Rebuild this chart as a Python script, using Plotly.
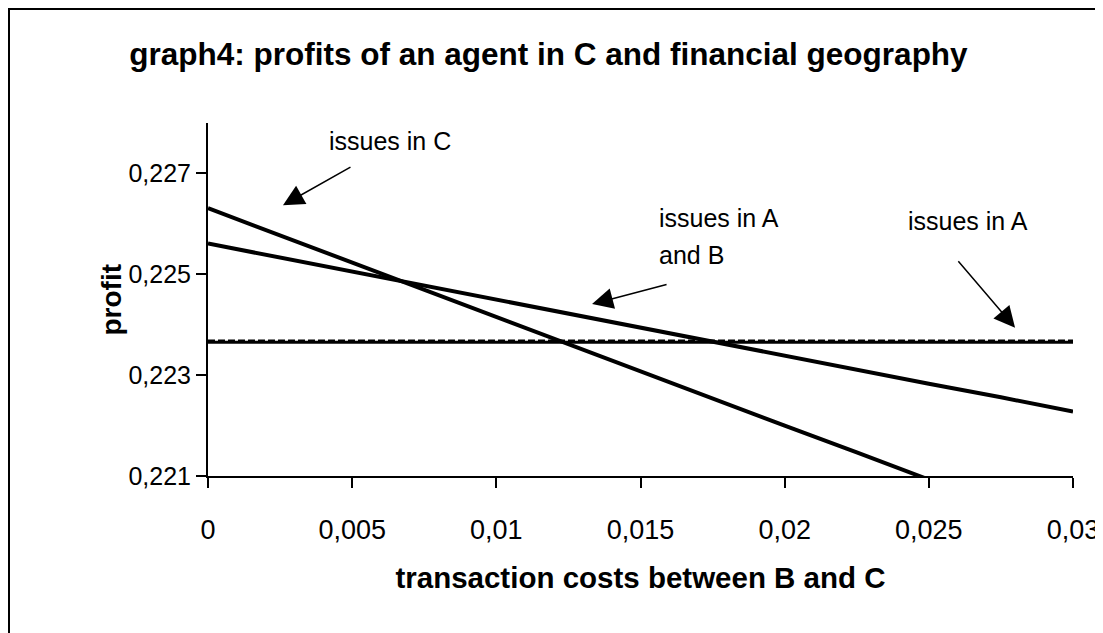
import plotly.graph_objects as go

# ---- data ----
x_c = [0, 0.0025, 0.005, 0.0075, 0.01, 0.0125, 0.015, 0.0175, 0.02, 0.0225, 0.025, 0.0255]
profit_issues_c = [0.22631, 0.22577, 0.22524, 0.22470, 0.22416, 0.22362, 0.22308, 0.22254,
                   0.22200, 0.22147, 0.22093, 0.22082]

x_ab = [0, 0.0025, 0.005, 0.0075, 0.01, 0.0125, 0.015, 0.0175, 0.02, 0.0225, 0.025, 0.0275, 0.03]
profit_issues_ab = [0.22561, 0.22533, 0.22506, 0.22478, 0.22450, 0.22422, 0.22395, 0.22367,
                    0.22339, 0.22311, 0.22283, 0.22256, 0.22228]

x_a = [0, 0.03]
profit_issues_a = [0.22365, 0.22365]
profit_issues_a_dashed = [0.22368, 0.22368]

x_tickvals = [0, 0.005, 0.01, 0.015, 0.02, 0.025, 0.03]
x_ticktext = ["0", "0,005", "0,01", "0,015", "0,02", "0,025", "0,03"]
y_tickvals = [0.221, 0.223, 0.225, 0.227]
y_ticktext = ["0,221", "0,223", "0,225", "0,227"]

title_text = "graph4: profits of an agent in C and financial geography"
x_title = "transaction costs between B and C"
y_title = "profit"

FONT = "Liberation Sans, Arial, sans-serif"

fig = go.Figure()
fig.add_trace(go.Scatter(x=x_a, y=profit_issues_a, mode="lines", name="issues in A",
                         line=dict(color="black", width=3)))
fig.add_trace(go.Scatter(x=x_a, y=profit_issues_a_dashed, mode="lines", name="issues in A (2)",
                         line=dict(color="black", width=2.5, dash="7px,3px")))
fig.add_trace(go.Scatter(x=x_ab, y=profit_issues_ab, mode="lines", name="issues in A and B",
                         line=dict(color="black", width=4)))
fig.add_trace(go.Scatter(x=x_c, y=profit_issues_c, mode="lines", name="issues in C",
                         line=dict(color="black", width=4)))

axis_common = dict(showline=True, linecolor="black", linewidth=2, ticks="outside",
                   ticklen=10, tickwidth=2, tickcolor="black", showgrid=False,
                   zeroline=False, mirror=False, automargin=False)

fig.update_xaxes(range=[0, 0.03], tickvals=x_tickvals, ticktext=x_ticktext,
                 ticklabelstandoff=19,
                 tickfont=dict(family=FONT, size=27, color="black"),
                 title=dict(text=x_title, font=dict(family=FONT, size=29.5, color="black",
                                                   weight="bold"), standoff=23),
                 **axis_common)
fig.update_yaxes(range=[0.221, 0.228], tickvals=y_tickvals, ticktext=y_ticktext,
                 ticklabelstandoff=0,
                 tickfont=dict(family=FONT, size=25, color="black"),
                 **axis_common)

# y axis title placed as rotated text left of the tick labels
fig.add_annotation(xref="paper", yref="paper", x=-0.111, y=0.5, text="<b>" + y_title + "</b>",
                   textangle=-90, showarrow=False, xanchor="center", yanchor="middle",
                   font=dict(family=FONT, size=28, color="black"))

ann_font = dict(family=FONT, size=25, color="black")
arrow_style = dict(showarrow=True, arrowhead=2, arrowsize=2.8, arrowwidth=1.5,
                   arrowcolor="black", text="", axref="pixel", ayref="pixel")

# arrows
fig.add_annotation(x=0.0026, y=0.22637, ax=69, ay=-39, **arrow_style)
fig.add_annotation(x=0.01332, y=0.22441, ax=76, ay=-20, **arrow_style)
fig.add_annotation(x=0.02799, y=0.22394, ax=-58, ay=-68, **arrow_style)

# labels
fig.add_annotation(x=0.00631, y=0.22765, text="issues in C", showarrow=False, font=ann_font)
fig.add_annotation(x=0.01557, y=0.22612, text="issues in A", showarrow=False,
                   font=ann_font, xanchor="left")
fig.add_annotation(x=0.01557, y=0.22538, text="and B", showarrow=False,
                   font=ann_font, xanchor="left")
fig.add_annotation(x=0.0242, y=0.22605, text="issues in A", showarrow=False,
                   font=ann_font, xanchor="left")

# outer frame (extends beyond the picture on the right and bottom)
fig.add_shape(type="rect", xref="paper", yref="paper", x0=-0.23006, x1=1.2, y0=-0.6, y1=1.32295,
              line=dict(color="black", width=2), fillcolor="rgba(0,0,0,0)", layer="above")

fig.update_layout(
    width=1095, height=625,
    margin=dict(l=200, r=30, t=115, b=157),
    paper_bgcolor="white", plot_bgcolor="white",
    showlegend=False,
    separators=", ",
    title=dict(text=title_text, x=0.4936, xanchor="center", y=1 - 46 / 625, yanchor="middle",
               yref="container",
               font=dict(family=FONT, size=31.5, color="black", weight="bold")),
)

fig.write_html("out.html")
